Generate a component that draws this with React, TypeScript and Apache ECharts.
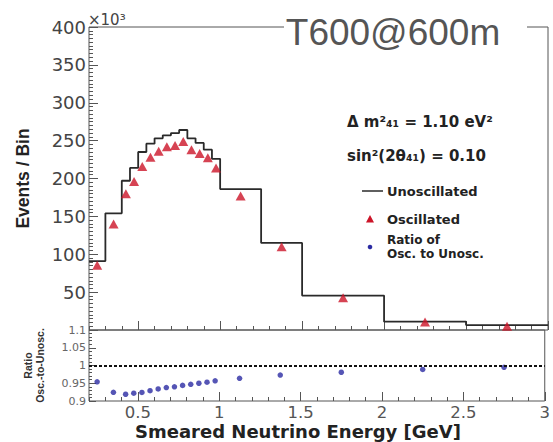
import React, { useEffect, useRef } from "react";
import * as echarts from "echarts";

// Energy binning [GeV]: lower edges of each bin plus the final upper edge
const binEdges = [0.2, 0.3, 0.4, 0.45, 0.5, 0.55, 0.6, 0.65, 0.7, 0.75, 0.8, 0.85, 0.9, 0.95, 1.0, 1.25, 1.5, 2.0, 2.5, 3.0];
// Events per bin, in units of 10^3
const unoscillated = [91, 154, 197, 214, 235, 246, 253, 257, 260, 264, 253, 247, 238, 226, 186, 115, 45.5, 11, 6.5];
const oscillated = [85.6, 140, 180, 196, 216, 228, 236, 242, 243.5, 249, 238, 233, 227.5, 214, 177, 110, 42.5, 10.5, 5];
// Ratio of oscillated to unoscillated spectrum
const ratio = [0.954, 0.9245, 0.919, 0.922, 0.924, 0.929, 0.934, 0.938, 0.94, 0.944, 0.947, 0.95, 0.953, 0.957, 0.964, 0.973, 0.981, 0.989, 0.995];
// Major tick positions on the energy axis and the ratio axis
const energyTicks = [0.5, 1, 1.5, 2, 2.5, 3];
const ratioTicks = [0.9, 1, 1.05, 1.1];
const ratioExtraTicks = [0.95];

const FONT = "DejaVu Sans";
const AXIS_COLOR = "#555";
const RED = "#cc1428";
const BLUE = "#2b2ba2";

// panel geometry
const LEFT = 89;
const WIDTH = 459;
const MAIN_TOP = 27;
const MAIN_H = 303;
const RATIO_TOP = MAIN_TOP + MAIN_H;
const RATIO_H = 71;
const RATIO_MIN = 0.9;
const RATIO_MAX = 1.1;

const binCenters = binEdges.slice(0, -1).map((e, i) => (e + binEdges[i + 1]) / 2);
const histData = binEdges.map((e, i) => [e, unoscillated[Math.min(i, unoscillated.length - 1)]]);
const oscData = binCenters.map((c, i) => [c, oscillated[i]]);
const ratioData = binCenters.map((c, i) => [c, ratio[i]]);

const energyLabel = (v: number) => {
  const r = Math.round(v * 10) / 10;
  return Math.abs(r * 2 - Math.round(r * 2)) < 1e-6 ? String(r) : "";
};
const ratioLabel = (v: number) => String(parseFloat(v.toFixed(2)));

function minorX(gridIndex: number, labels: boolean) {
  return {
    type: "value",
    gridIndex,
    min: 0.2,
    max: 3,
    interval: 0.1,
    position: "bottom",
    axisLine: { show: false },
    splitLine: { show: false },
    axisTick: { show: true, inside: true, length: 4, lineStyle: { color: AXIS_COLOR } },
    axisLabel: labels
      ? {
          show: true,
          customValues: energyTicks,
          formatter: energyLabel,
          fontFamily: FONT,
          fontSize: 16.5,
          lineHeight: 16,
          color: "#555",
          margin: 3,
        }
      : { show: false },
  };
}

function majorX(gridIndex: number) {
  return {
    type: "value",
    gridIndex,
    min: 0.2,
    max: 3,
    position: "bottom",
    axisLine: { show: false },
    splitLine: { show: false },
    axisLabel: { show: false },
    axisTick: { show: true, inside: true, length: 9, customValues: energyTicks, lineStyle: { color: AXIS_COLOR } },
  };
}

const legendText = (x: number, y: number, text: string, size: number) => ({
  type: "text",
  z: 101,
  x,
  y,
  style: { text, fill: "#222", font: `bold ${size}px '${FONT}'`, textAlign: "left", textVerticalAlign: "middle" },
});

// extra ratio tick labels, positioned on the ratio panel's linear scale
const ratioExtraLabels = ratioExtraTicks.map((v, i) => ({
  id: `ratio-tick-${i}`,
  type: "text",
  z: 120,
  x: LEFT - 3,
  y: RATIO_TOP + (RATIO_H * (RATIO_MAX - v)) / (RATIO_MAX - RATIO_MIN),
  style: {
    text: ratioLabel(v),
    fill: "#666",
    font: `11px '${FONT}'`,
    textAlign: "right",
    textVerticalAlign: "middle",
  },
}));

const option = {
  animation: false,
  backgroundColor: "#fff",
  grid: [
    { left: LEFT, top: MAIN_TOP, width: WIDTH, height: MAIN_H, show: true, borderColor: AXIS_COLOR, borderWidth: 1, backgroundColor: "transparent" },
    { left: LEFT, top: RATIO_TOP, width: WIDTH, height: RATIO_H, show: true, borderColor: AXIS_COLOR, borderWidth: 1, backgroundColor: "transparent" },
  ],
  xAxis: [minorX(0, false), majorX(0), minorX(1, true), majorX(1)],
  yAxis: [
    {
      type: "value",
      gridIndex: 0,
      min: 0,
      max: 400,
      interval: 50,
      axisLine: { show: false },
      splitLine: { show: false },
      axisTick: { show: true, inside: true, length: 9, lineStyle: { color: AXIS_COLOR } },
      minorTick: { show: true, splitNumber: 10, length: 4, lineStyle: { color: AXIS_COLOR } },
      axisLabel: {
        formatter: (v: number) => (v === 0 ? "" : String(v)),
        fontFamily: FONT,
        fontSize: 18,
        color: "#444",
        margin: 3,
      },
      name: "Events / Bin",
      nameLocation: "middle",
      nameRotate: 90,
      nameGap: 57,
      nameTextStyle: { fontFamily: "Liberation Sans", fontWeight: "bold", fontSize: 17.5, color: "#222" },
    },
    {
      type: "value",
      gridIndex: 1,
      min: RATIO_MIN,
      max: RATIO_MAX,
      interval: 0.05,
      axisLine: { show: false },
      splitLine: { show: false },
      axisTick: { show: true, inside: true, length: 7, lineStyle: { color: AXIS_COLOR } },
      minorTick: { show: true, splitNumber: 5, length: 3, lineStyle: { color: AXIS_COLOR } },
      axisLabel: {
        customValues: ratioTicks,
        formatter: ratioLabel,
        fontFamily: FONT,
        fontSize: 11,
        lineHeight: 11,
        color: "#666",
        margin: 3,
      },
    },
  ],
  series: [
    {
      name: "Unoscillated",
      type: "line",
      xAxisIndex: 0,
      yAxisIndex: 0,
      step: "end",
      data: histData,
      showSymbol: false,
      lineStyle: { color: "#2a2a2a", width: 1.8 },
      z: 2,
    },
    {
      name: "Oscillated",
      type: "scatter",
      xAxisIndex: 0,
      yAxisIndex: 0,
      data: oscData,
      symbol: "triangle",
      symbolSize: [10, 9],
      itemStyle: { color: RED },
      z: 3,
    },
    {
      name: "Ratio of Osc. to Unosc.",
      type: "scatter",
      xAxisIndex: 2,
      yAxisIndex: 1,
      data: ratioData,
      symbol: "circle",
      symbolSize: 5.5,
      itemStyle: { color: BLUE },
      markLine: {
        silent: true,
        symbol: ["none", "none"],
        label: { show: false },
        lineStyle: { color: "#111", width: 2, type: [3, 2] },
        data: [{ yAxis: 1 }],
      },
      z: 3,
    },
  ],
  graphic: [
    { type: "rect", z: 100, shape: { x: 284, y: 0, width: 243, height: 52 }, style: { fill: "#fff" } },
    {
      type: "text",
      z: 101,
      x: 393,
      y: 32,
      style: { text: "T600@600m", fill: "#555", font: "37px 'Liberation Sans'", textAlign: "center", textVerticalAlign: "middle" },
    },
    {
      type: "text",
      z: 101,
      x: 88,
      y: 20,
      style: { text: "×10³", fill: "#444", font: `15px '${FONT}'`, textAlign: "left", textVerticalAlign: "middle" },
    },
    // ratio panel axis title
    {
      type: "text",
      z: 101,
      x: 34,
      y: RATIO_TOP + RATIO_H / 2,
      rotation: Math.PI / 2,
      style: {
        text: "Ratio\nOsc.-to-Unosc.",
        fill: "#333",
        font: "bold 10.5px 'Liberation Sans'",
        lineHeight: 12,
        textAlign: "center",
        textVerticalAlign: "middle",
      },
    },
    ...ratioExtraLabels,
    legendText(347, 122, "Δ m²₄₁ = 1.10 eV²", 15),
    legendText(347, 156, "sin²(2θ₄₁) = 0.10", 15),
    { type: "line", z: 101, shape: { x1: 362, y1: 191, x2: 383, y2: 191 }, style: { stroke: "#2a2a2a", lineWidth: 1.5 } },
    legendText(387, 191, "Unoscillated", 13),
    { type: "polygon", z: 101, shape: { points: [[370, 215], [374, 222.5], [366, 222.5]] }, style: { fill: RED } },
    legendText(387, 219, "Oscillated", 13),
    { type: "circle", z: 101, shape: { cx: 370, cy: 247, r: 2.3 }, style: { fill: BLUE } },
    legendText(387, 240, "Ratio of", 12),
    legendText(387, 254, "Osc. to Unosc.", 12),
    {
      type: "text",
      z: 101,
      x: 298,
      y: 431,
      style: {
        text: "Smeared Neutrino Energy [GeV]",
        fill: "#222",
        font: `bold 18px '${FONT}'`,
        lineHeight: 18,
        textAlign: "center",
        textVerticalAlign: "middle",
      },
    },
  ],
};

export default function App() {
  const ref = useRef<HTMLDivElement>(null);
  useEffect(() => {
    const chart = echarts.init(ref.current as HTMLDivElement, null, { renderer: "svg" });
    chart.setOption(option as any);
    return () => chart.dispose();
  }, []);
  return (
    <div
      ref={ref}
      style={{ position: "fixed", left: 0, top: 0, width: 553, height: 442, background: "#fff" }}
    />
  );
}
